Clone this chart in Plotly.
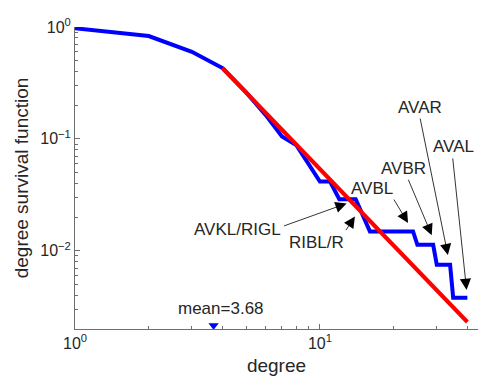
import plotly.graph_objects as go
import math

# ---- data ----
degree = [1, 2, 3, 4, 5, 6, 7, 8, 10, 11, 12, 14, 16, 24, 25, 29, 30, 34, 35, 40]
survival = [0.974, 0.83, 0.60, 0.43, 0.26, 0.164, 0.105, 0.0883, 0.0416, 0.0416,
            0.0289, 0.0289, 0.0149, 0.0149, 0.0113, 0.0113, 0.0075, 0.0075, 0.0038, 0.0038]

fit_degree = [4, 40]
fit_survival = [0.43, 0.00231]

mean_degree = 3.68

labels = ["AVKL/RIGL", "RIBL/R", "AVBL", "AVBR", "AVAR", "AVAL"]
label_tip_x = [12.85, 13.9, 22.9, 28.6, 33.3, 39.7]
label_tip_y = [0.0265, 0.0202, 0.0177, 0.0138, 0.00916, 0.00447]
# tail offsets (pixels, relative to arrow tip) and text offsets (pixels)
tail_dx = [-64, -10, -15, -24, -28, -14]
tail_dy = [23, 15, -25, -57, -138, -133]
text_dx = [-109, -38, -36, -28, -28, -13]
text_dy = [26, 26, -35, -67, -148, -143]

Y_MIN, Y_MAX = 0.002, 1.0
X_MIN, X_MAX = 1.0, 44.2

FONT = "Liberation Sans, Arial, sans-serif"
TXT = "#262626"
AX = "#6e6e6e"

fig = go.Figure()
fig.add_trace(go.Scatter(x=degree, y=survival, mode="lines",
                         line=dict(color="#0000ff", width=4), showlegend=False))
fig.add_trace(go.Scatter(x=fit_degree, y=fit_survival, mode="lines",
                         line=dict(color="#ff0000", width=4), showlegend=False))

ylo = math.log10(Y_MIN)
marker_y = 10 ** (ylo + 0.012 * (math.log10(Y_MAX) - ylo))
fig.add_trace(go.Scatter(x=[mean_degree], y=[marker_y], mode="markers",
                         marker=dict(symbol="triangle-down", color="#0000ff", size=9,
                                     line=dict(width=0)),
                         showlegend=False))
fig.add_annotation(x=math.log10(mean_degree), y=math.log10(marker_y), xref="x", yref="y",
                   text="mean=%.2f" % mean_degree, showarrow=False, yshift=17, xshift=7,
                   font=dict(family=FONT, size=17, color=TXT))

for i, lab in enumerate(labels):
    tx, ty = math.log10(label_tip_x[i]), math.log10(label_tip_y[i])
    fig.add_annotation(x=tx, y=ty, xref="x", yref="y", text="", showarrow=True,
                       ax=tail_dx[i], ay=tail_dy[i], arrowhead=2, arrowsize=2.8,
                       arrowwidth=0.8, arrowcolor="#000000", standoff=0, startstandoff=0)
    fig.add_annotation(x=tx, y=ty, xref="x", yref="y", text=lab, showarrow=False,
                       xshift=text_dx[i], yshift=-text_dy[i],
                       font=dict(family=FONT, size=17, color=TXT))

major_x = [1, 10]
minor_x = [2, 3, 4, 5, 6, 7, 8, 9, 20, 30, 40]
major_y = [0.01, 0.1, 1]
minor_y = [0.002, 0.003, 0.004, 0.005, 0.006, 0.007, 0.008, 0.009,
           0.02, 0.03, 0.04, 0.05, 0.06, 0.07, 0.08, 0.09,
           0.2, 0.3, 0.4, 0.5, 0.6, 0.7, 0.8, 0.9]

fig.update_layout(
    width=478, height=376,
    margin=dict(l=75, r=0, t=27, b=47),
    plot_bgcolor="white", paper_bgcolor="white",
    font=dict(family=FONT, color=TXT),
    xaxis=dict(type="log", range=[math.log10(X_MIN), math.log10(X_MAX)],
               showgrid=False, zeroline=False, showline=True, linecolor=AX, linewidth=1,
               ticks="inside", ticklen=5, tickcolor=AX, tickmode="array",
               tickvals=major_x, ticktext=["10<sup>0</sup>", "10<sup>1</sup>"],
               tickfont=dict(size=16, color=TXT),
               minor=dict(ticks="inside", ticklen=3, tickcolor=AX, tickmode="array",
                          tickvals=minor_x, showgrid=False),
               title=dict(text="degree", font=dict(size=19, color=TXT), standoff=8)),
    yaxis=dict(type="log", range=[math.log10(Y_MIN), math.log10(Y_MAX)],
               showgrid=False, zeroline=False, showline=True, linecolor=AX, linewidth=1,
               ticks="inside", ticklen=5, tickcolor=AX, tickmode="array",
               tickvals=major_y, ticktext=["10<sup>\u22122</sup>", "10<sup>\u22121</sup>", "10<sup>0</sup>"],
               tickfont=dict(size=16, color=TXT),
               minor=dict(ticks="inside", ticklen=3, tickcolor=AX, tickmode="array",
                          tickvals=minor_y, showgrid=False),
               title=dict(text="degree survival function", font=dict(size=19, color=TXT), standoff=6)),
)

fig.write_html("out.html", config={"displayModeBar": False},
               post_script="document.body.style.margin='0';document.body.style.overflow='hidden';")
